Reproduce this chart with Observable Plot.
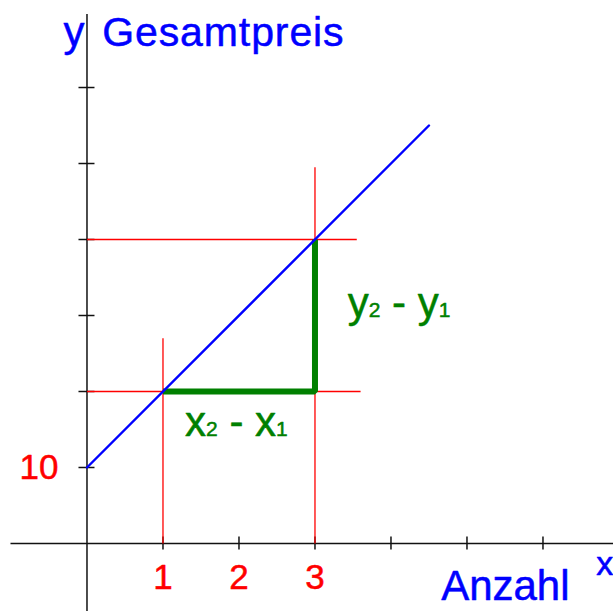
<!DOCTYPE html>
<html>
<head>
<meta charset="utf-8">
<script src="https://cdn.jsdelivr.net/npm/d3@7"></script>
<script src="https://cdn.jsdelivr.net/npm/@observablehq/plot@0.6"></script>
<style>
  html, body { margin: 0; padding: 0; background: #fff; }
  svg text { white-space: pre; }
</style>
</head>
<body>
<div id="chart"></div>
<script>
// ---- data ----
const xTicks = [1, 2, 3, 4, 5, 6];
const yTicks = [10, 20, 30, 40, 50, 60];
const xTickLabels = [1, 2, 3];
const yTickLabels = [10];
// Gesamtpreis = 10 + 10 * Anzahl
const lineX = [0, 4.5];
const lineY = [10, 55];
// the two points P1(x1,y1), P2(x2,y2)
const px = [1, 3];
const py = [20, 40];
// tops of the red vertical guides, right ends of the red horizontal guides
const guideTop = [27, 49.5];
const guideRight = [3.6, 3.55];
// text labels and their anchor points in data units
const labels = [
  {text: "y", x: -0.31, y: 65.5, color: "#0000ff", size: 42, spacing: 0},
  {text: "Gesamtpreis", x: 0.2, y: 65.5, color: "#0000ff", size: 41, spacing: 0.9},
  {text: "Anzahl", x: 4.66, y: -7.5, color: "#0000ff", size: 42, spacing: 0},
  {text: "x", x: 6.7, y: -4.2, color: "#0000ff", size: 34, spacing: 0}
];
const diffLabels = [
  {text: "x2 - x1", x: 1.29, y: 14.2},
  {text: "y2 - y1", x: 3.43, y: 29.8}
];

const xDomain = [-1.138, 6.928];
const yDomain = [-8.95, 71.45];

const linePts = lineX.map((x, i) => ({x, y: lineY[i]}));
const vGuides = px.map((x, i) => ({x1: x, x2: x, y1: 0, y2: guideTop[i]}));
const hGuides = py.map((y, i) => ({y1: y, y2: y, x1: 0, x2: guideRight[i]}));
const greenPath = [{x: px[0], y: py[0]}, {x: px[1], y: py[0]}, {x: px[1], y: py[1]}];

const font = "Liberation Sans, Arial, Helvetica, sans-serif";
const heavy = 0.5;

const chart = Plot.plot({
  width: 613,
  height: 611,
  margin: 0,
  x: {domain: xDomain, axis: null},
  y: {domain: yDomain, axis: null},
  style: {background: "#fff", fontFamily: font, overflow: "visible"},
  marks: [
    // axes
    Plot.ruleY([0], {x1: -1.0, x2: xDomain[1], stroke: "#111", strokeWidth: 1.5}),
    Plot.ruleX([0], {y1: yDomain[0], y2: 69.6, stroke: "#111", strokeWidth: 1.5}),
    Plot.ruleX(xTicks, {x: d => d, y1: 0, y2: 0, insetTop: -6.5, insetBottom: -6.5, stroke: "#111", strokeWidth: 1.5}),
    Plot.ruleY(yTicks, {y: d => d, x1: 0, x2: 0, insetLeft: -8, insetRight: -8, stroke: "#111", strokeWidth: 1.5}),
    // red guides
    Plot.link(vGuides, {x1: "x1", x2: "x2", y1: "y1", y2: "y2", stroke: "#ff0000", strokeWidth: 1.3}),
    Plot.link(hGuides, {x1: "x1", x2: "x2", y1: "y1", y2: "y2", stroke: "#ff0000", strokeWidth: 1.3}),
    // green difference triangle
    Plot.line(greenPath, {x: "x", y: "y", stroke: "#008000", strokeWidth: 6, strokeLinejoin: "miter", strokeLinecap: "butt"}),
    // blue line
    Plot.line(linePts, {x: "x", y: "y", stroke: "#0000ff", strokeWidth: 2.4}),
    // tick labels
    Plot.text(xTickLabels, {x: d => d, y: 0, text: d => String(d), dy: 21, lineAnchor: "top", textAnchor: "middle", fill: "#ff0000", stroke: "#ff0000", strokeWidth: heavy, fontSize: 35, fontFamily: font}),
    Plot.text(yTickLabels, {x: 0, y: d => d, text: d => String(d), dx: -28.5, lineAnchor: "middle", textAnchor: "end", fill: "#ff0000", stroke: "#ff0000", strokeWidth: heavy, fontSize: 35, fontFamily: font}),
    // axis titles
    ...labels.map((l, i) => Plot.text([l], {x: "x", y: "y", text: "text", lineAnchor: "bottom", textAnchor: "start", fill: l.color, stroke: l.color, strokeWidth: heavy, fontSize: l.size, fontFamily: font, className: "title" + i})),
    // difference labels
    Plot.text(diffLabels, {x: "x", y: "y", text: "text", lineAnchor: "bottom", textAnchor: "start", fill: "#008000", stroke: "#008000", strokeWidth: heavy, fontSize: 42, fontFamily: font, className: "difflabel"})
  ]
});

// letter spacing for titles
labels.forEach((l, i) => {
  if (l.spacing) d3.select(chart).selectAll(".title" + i + " text").style("letter-spacing", l.spacing + "px");
});

// render digits in difference labels as small (subscript-like) glyphs
d3.select(chart).selectAll(".difflabel text").each(function() {
  const t = this.textContent;
  this.textContent = "";
  const parts = t.match(/\d+|\D+/g);
  for (const p of parts) {
    const ts = document.createElementNS("http://www.w3.org/2000/svg", "tspan");
    ts.textContent = p;
    if (/^\d+$/.test(p)) ts.setAttribute("font-size", "21");
    this.appendChild(ts);
  }
});

document.getElementById("chart").appendChild(chart);
</script>
</body>
</html>
